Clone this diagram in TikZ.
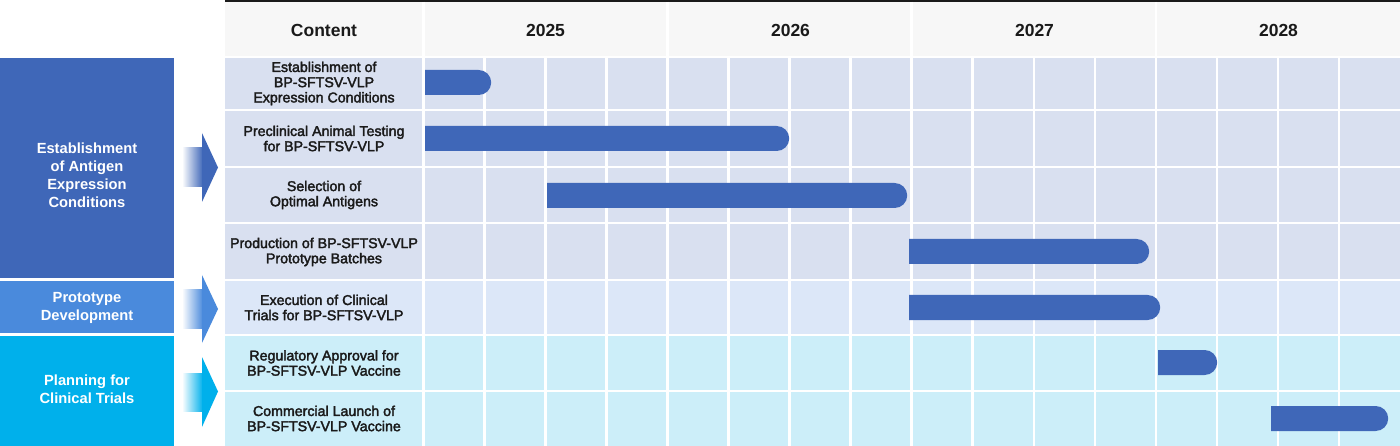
\documentclass[tikz,border=0pt]{standalone}
\usepackage{fontspec}
\setmainfont{Liberation Sans}
\setsansfont{Liberation Sans}
\newfontfamily\mediumfont[FakeBold=2.4]{Liberation Sans}
\usepackage{xcolor}
\usetikzlibrary{shapes.misc, positioning}

\definecolor{barblue}{HTML}{3F67B8}
\definecolor{protoblue}{HTML}{4A8ADC}
\definecolor{clinicyan}{HTML}{00B0EB}
\definecolor{rowlav}{HTML}{D9E0F0}
\definecolor{rowpale}{HTML}{DCE7F8}
\definecolor{rowcyan}{HTML}{CCEEF9}
\definecolor{headgray}{HTML}{F7F7F7}
\definecolor{ink}{HTML}{1A1A1A}

\begin{document}
\begin{tikzpicture}[x=1pt, y=-1pt, font=\sffamily,
  gridline/.style={white, line width=2.6pt},
  headtext/.style={text=ink, font=\bfseries\fontsize{17.5}{19}\selectfont},
  rowtext/.style={align=center, text=ink, inner sep=0pt,
    font=\mediumfont\fontsize{14.2}{15.2}\selectfont},
  grouptext/.style={align=center, text=white, inner sep=0pt,
    font=\bfseries\fontsize{14.7}{18}\selectfont},
  bar/.style={rounded rectangle, rounded rectangle west arc=none, fill=barblue,
    minimum height=25pt, inner sep=0pt, anchor=west}]

  \useasboundingbox (0,0) rectangle (1400,446);

  % Header band
  \fill[headgray] (225,2) rectangle (1400,57);
  \draw[ink, line width=2pt] (225,1) -- (1400,1);

  % Row backgrounds (top/bottom/colour)
  \foreach \top/\bot/\col in {57/110/rowlav, 110/167/rowlav, 167/223/rowlav,
      223/280/rowlav, 280/335/rowpale, 335/391/rowcyan, 391/446/rowcyan}
    \fill[\col] (225,\top) rectangle (1400,\bot);

  % White grid
  \foreach \y in {57,110,167,223,280,335,391}
    \draw[gridline] (225,\y) -- (1400,\y);
  \draw[gridline] (423.5,2) -- (423.5,446);
  \foreach \k in {1,...,15} {
    \pgfmathsetmacro{\qx}{423.5+61.03*\k}
    \draw[gridline] (\qx,57) -- (\qx,446);
  }
  \foreach \k in {4,8,12} {
    \pgfmathsetmacro{\qx}{423.5+61.03*\k}
    \draw[gridline] (\qx,2) -- (\qx,57);
  }

  % Header labels
  \node[headtext] (hcontent) at (324,30) {Content};
  \node[headtext] (h2025) at (545.5,30) {2025};
  \node[headtext] (h2026) at (790.5,30) {2026};
  \node[headtext] (h2027) at (1034.5,30) {2027};
  \node[headtext] (h2028) at (1278.5,30) {2028};

  % Task labels
  \node[rowtext] (task1) at (324,83.5) {Establishment of\\BP-SFTSV-VLP\\Expression Conditions};
  \node[rowtext] (task2) at (324,138.5) {Preclinical Animal Testing\\for BP-SFTSV-VLP};
  \node[rowtext] (task3) at (324,195) {Selection of\\Optimal Antigens};
  \node[rowtext] (task4) at (324,252) {Production of BP-SFTSV-VLP\\Prototype Batches};
  \node[rowtext] (task5) at (324,307.5) {Execution of Clinical\\Trials for BP-SFTSV-VLP};
  \node[rowtext] (task6) at (324,363) {Regulatory Approval for\\BP-SFTSV-VLP Vaccine};
  \node[rowtext] (task7) at (324,418.5) {Commercial Launch of\\BP-SFTSV-VLP Vaccine};

  % Schedule bars
  \node[bar, minimum width=66pt] (bar1) at (425,82.5) {};
  \node[bar, minimum width=364pt] (bar2) at (425,138.5) {};
  \node[bar, minimum width=360pt] (bar3) at (547,195.5) {};
  \node[bar, minimum width=240pt] (bar4) at (909,251.5) {};
  \node[bar, minimum width=251pt] (bar5) at (909,307.5) {};
  \node[bar, minimum width=59pt] (bar6) at (1158,362.5) {};
  \node[bar, minimum width=117pt] (bar7) at (1271,418.5) {};

  % --- Phase blocks ---
  \fill[barblue] (0,58) rectangle (174,278);
  \node[grouptext] (phase1) at (87,175) {Establishment\\of Antigen\\Expression\\Conditions};
  \fill[protoblue] (0,281) rectangle (174,333);
  \node[grouptext] (phase2) at (87,308) {Prototype\\Development};
  \fill[clinicyan] (0,336) rectangle (174,446);
  \node[grouptext] (phase3) at (87,389) {Planning for\\Clinical Trials};

  % Fading block arrows
  \shade[left color=white, right color=barblue] (182,148) rectangle (203,187);
  \fill[barblue] (202,133) -- (218,167.5) -- (202,202) -- cycle;
  \shade[left color=white, right color=protoblue] (182,290) rectangle (203,328);
  \fill[protoblue] (202,275) -- (218,309) -- (202,343) -- cycle;
  \shade[left color=white, right color=clinicyan] (182,373) rectangle (203,411);
  \fill[clinicyan] (202,357) -- (218,391.5) -- (202,427) -- cycle;
\end{tikzpicture}
\end{document}
